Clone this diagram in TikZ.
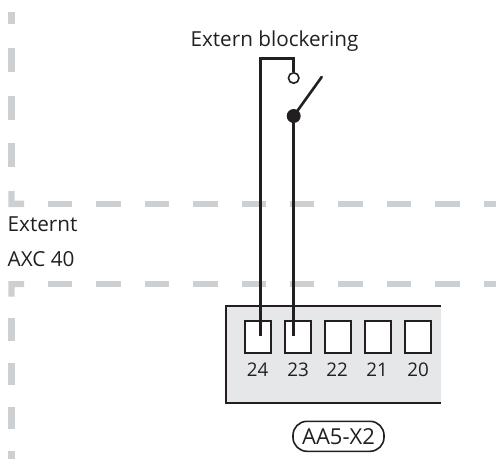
\documentclass[tikz,border=0pt]{standalone}
\usepackage{fontspec}
\setmainfont{Open Sans}
\definecolor{dashgray}{HTML}{CDD0D3}
\definecolor{boxgray}{HTML}{E6E7E8}
\definecolor{inkc}{HTML}{231F20}
\tikzset{
  sep/.style={draw=none,fill=dashgray},
  wire/.style={draw=inkc,line width=2.6pt},
  lbl/.style={inner sep=0pt,text=inkc,font=\fontsize{20.7}{22}\selectfont},
  num/.style={inner sep=0pt,text=inkc,font=\fontsize{18.8}{22}\selectfont},
  term/.style={draw=inkc,line width=2.2pt,fill=white,minimum width=26pt,minimum height=31.5pt,inner sep=0pt}
}
\begin{document}
\begin{tikzpicture}[x=1pt,y=-1pt]
\useasboundingbox (0,0) rectangle (496,459);
% separators
\fill[sep] (8.3,12) rectangle (14.5,24);
\foreach \y in {48,96,143} {\fill[sep] (8.3,\y) rectangle (14.5,{\y+24});}
\fill[sep] (8.3,191) -- (14.5,191) -- (14.5,200.7) -- (24,200.7) -- (24,207) -- (8.3,207) -- cycle;
\fill[sep] (8.3,296.5) -- (14.5,296.5) -- (14.5,287) -- (24,287) -- (24,281) -- (8.3,281) -- cycle;
\foreach \x in {48,96.4,144.8,193.2,241.6,290,338.4,386.8,435.2,483.6} {
  \fill[sep] (\x,200.8) rectangle ({min(\x+24.4,496)},207);
  \fill[sep] (\x,281) rectangle ({min(\x+24.4,496)},287);
}
\foreach \y in {318,362.7,406.7} {\fill[sep] (8.3,\y) rectangle (14.5,{\y+22.5});}
\fill[sep] (8.3,451) rectangle (14.5,459);
% box
\fill[boxgray] (226,306) rectangle (441,403);
\draw[draw=inkc,line width=2.2pt] (441,306) -- (226,306) -- (226,403) -- (441,403);
% terminals
\node[term] (t24) at (257.7,337) {};
\node[term] (t23) at (298,337) {};
\node[term] (t22) at (338,337) {};
\node[term] (t21) at (378,337) {};
\node[term] (t20) at (418,337) {};
\foreach \n/\x in {24/257.5,23/298,22/337,21/377,20/418} {\node[num,anchor=base] (n\n) at (\x,376) {\n};}
% switch
\coordinate (e24) at (260.7,335.7);
\coordinate (e23) at (293.7,335.7);
\coordinate (tip) at (321.7,77);
\node[circle,draw=inkc,line width=1.6pt,fill=white,minimum size=10.5pt,inner sep=0pt] (open) at (293.7,78) {};
\node[circle,fill=inkc,minimum size=14pt,inner sep=0pt] (closed) at (293.7,116) {};
\draw[wire,line cap=butt] (e24) -- (260.7,58.3) -- (293.7,58.3) -- (open.north);
\draw[wire] (e23) -- (closed.center);
\draw[wire,line cap=round] (closed.center) -- (tip);
% labels
\node[lbl,anchor=base] (title) at (274.5,46.5) {Extern blockering};
\node[lbl,anchor=base west] (ext) at (7.5,231) {Externt};
\node[lbl,anchor=base west] (axc) at (7.5,266) {AXC 40};
\node[lbl,draw=inkc,line width=1.6pt,rounded corners=14pt,minimum width=91pt,minimum height=30pt,font=\fontsize{22}{22}\selectfont] (pill) at (338.5,436.3) {AA5-X2};
\end{tikzpicture}
\end{document}
